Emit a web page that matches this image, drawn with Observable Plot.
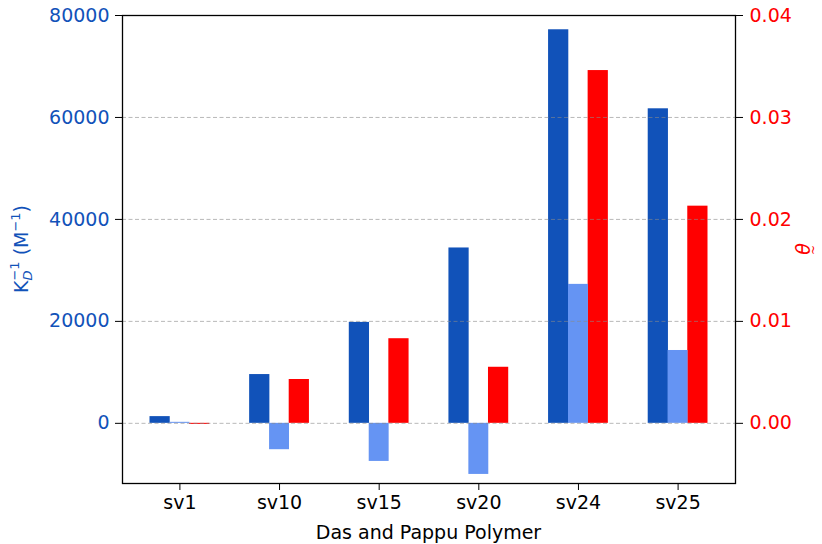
<!DOCTYPE html>
<html>
<head>
<meta charset="utf-8">
<script src="https://cdn.jsdelivr.net/npm/d3@7"></script>
<script src="https://cdn.jsdelivr.net/npm/@observablehq/plot@0.6"></script>
<style>
  html, body { margin: 0; padding: 0; background: white; }
  #chart svg { display: block; }
</style>
</head>
<body>
<div id="chart"></div>
<script>
// ---- data ----
const categories = ["sv1", "sv10", "sv15", "sv20", "sv24", "sv25"];
const kdInv      = [1320, 9570, 19800, 34400, 77200, 61700];     // dark blue, left axis (M^-1)
const kdInvAlt   = [200, -5170, -7470, -10020, 27260, 14290];    // light blue, left axis (M^-1)
const theta      = [-0.0001, 0.0043, 0.0083, 0.0055, 0.0346, 0.0213]; // red, right axis
const leftTicks  = [0, 20000, 40000, 60000, 80000];
const rightTicks = [0.00, 0.01, 0.02, 0.03, 0.04];
const xLabel = "Das and Pappu Polymer";

// ---- style ----
const darkBlue = "#1152b9";
const lightBlue = "#6594f3";
const red = "#ff0000";
const yDomain = [-11800, 80000];
const thetaToLeft = 80000 / 0.04; // right axis maps 0.04 onto 80000

const W = 822, H = 544, ML = 122, MR = 87, MT = 15, MB = 61;
const padIn = 0.4, padOut = 0.276;
const step = (W - ML - MR) / (categories.length - padIn + 2 * padOut);
const third = step * (1 - padIn) / 3;

const rows = categories.map((c, i) => ({cat: c, kd: kdInv[i], kd2: kdInvAlt[i], th: theta[i]}));

const chart = Plot.plot({
  width: W,
  height: H,
  marginLeft: ML,
  marginRight: MR,
  marginTop: MT,
  marginBottom: MB,
  style: {fontFamily: "DejaVu Sans", fontSize: "19px", background: "white", color: "black"},
  x: {type: "band", domain: categories, paddingInner: padIn, paddingOuter: padOut, round: false, axis: null},
  y: {domain: yDomain, axis: null},
  marks: [
    Plot.barY(rows, {x: "cat", y: "kd", fill: darkBlue, insetLeft: 0, insetRight: 2 * third - 0.3}),
    Plot.barY(rows, {x: "cat", y: d => d.th * thetaToLeft, fill: red, insetLeft: 2 * third - 0.3, insetRight: 0}),
    Plot.barY(rows, {x: "cat", y: "kd2", fill: lightBlue, insetLeft: third, insetRight: third}),
    Plot.ruleY(leftTicks.slice(0, -1), {stroke: "#8a8a8a", strokeOpacity: 0.6, strokeWidth: 1, strokeDasharray: "4,2.5"}),
    Plot.frame({stroke: "black", strokeWidth: 1.3}),
    Plot.axisY({anchor: "left", ticks: leftTicks, tickFormat: d => String(d), tickSize: 7, tickPadding: 6,
      stroke: "black", fill: darkBlue, label: null}),
    Plot.axisY({anchor: "right", ticks: rightTicks.map(t => t * thetaToLeft), tickFormat: d => (d / thetaToLeft).toFixed(2),
      tickSize: 7, tickPadding: 7, stroke: "black", fill: red, label: null}),
    Plot.axisX({anchor: "bottom", tickSize: 7, tickPadding: 5, stroke: "black", fill: "black", label: null})
  ]
});

document.getElementById("chart").appendChild(chart);

// ---- axis titles with sub/superscripts ----
const svg = d3.select(chart);
const ns = "DejaVu Sans";

// left: K_D^{-1} (M^{-1})
const lt = svg.append("text")
  .attr("transform", "translate(28,249) rotate(-90)")
  .attr("text-anchor", "middle")
  .attr("fill", darkBlue)
  .style("font-family", ns)
  .style("font-size", "19px");
lt.append("tspan").text("K");
lt.append("tspan").attr("dy", 4).style("font-size", "13px").style("font-style", "italic").text("D");
lt.append("tspan").attr("dx", -10).attr("dy", -13).style("font-size", "13px").text("\u22121");
lt.append("tspan").attr("dy", 9).text(" (M");
lt.append("tspan").attr("dy", -8).style("font-size", "13px").text("\u22121");
lt.append("tspan").attr("dy", 8).text(")");

// right: theta with under-tilde
const rg = svg.append("g").attr("transform", "translate(810,249) rotate(-90)");
rg.append("text")
  .attr("text-anchor", "middle")
  .attr("fill", red)
  .style("font-family", ns)
  .style("font-size", "19px")
  .style("font-style", "italic")
  .text("\u03b8");
rg.append("text")
  .attr("text-anchor", "middle")
  .attr("x", -1)
  .attr("y", 7)
  .attr("fill", red)
  .style("font-family", ns)
  .style("font-size", "12px")
  .text("~");

// bottom label
svg.append("text")
  .attr("x", 428.5)
  .attr("y", 539)
  .attr("text-anchor", "middle")
  .attr("fill", "black")
  .style("font-family", ns)
  .style("font-size", "19px")
  .text(xLabel);
</script>
</body>
</html>
